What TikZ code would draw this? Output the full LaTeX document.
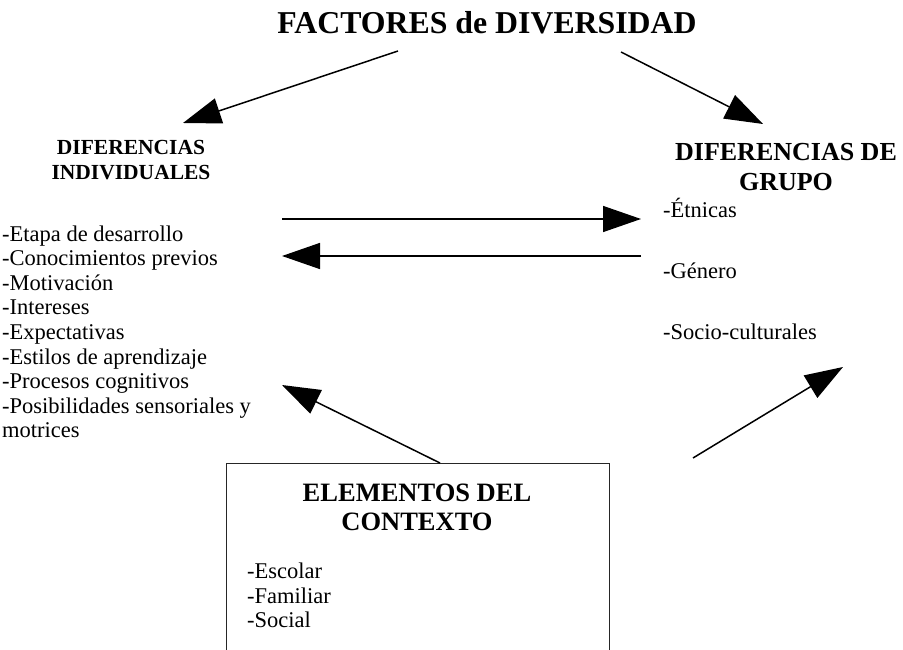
\documentclass[tikz,border=0pt]{standalone}
\usepackage{fontspec}
\setmainfont{Liberation Serif}
\usetikzlibrary{arrows.meta}
\tikzset{
  conn/.style={line width=1.5pt, -{Triangle[length=38pt,width=26pt]}},
  boxline/.style={line width=1pt, draw=black!85},
  item/.style={anchor=base west, inner sep=0pt, font=\fontsize{22.5}{25}\selectfont},
  headS/.style={anchor=base, inner sep=0pt, font=\fontsize{21.5}{24}\selectfont\bfseries},
  headM/.style={anchor=base, inner sep=0pt, font=\fontsize{26}{30}\selectfont\bfseries},
  headN/.style={anchor=base, inner sep=0pt, font=\fontsize{26.5}{30}\selectfont\bfseries},
  headL/.style={anchor=base, inner sep=0pt, font=\fontsize{31.8}{36}\selectfont\bfseries},
}
\begin{document}
\begin{tikzpicture}[x=1pt,y=-1pt]
\useasboundingbox[fill=white] (0,0) rectangle (903,650);

% Title
\node[headL] (title) at (487,34) {FACTORES de DIVERSIDAD};

% Left heading
\node[headS] (indA) at (131,155) {DIFERENCIAS};
\node[headS] (indB) at (131,180) {INDIVIDUALES};

% Left list
\node[item] (i1) at (2,241) {-Etapa de desarrollo};
\node[item] (i2) at (2,265.6) {-Conocimientos previos};
\node[item] (i3) at (2,290.2) {-Motivación};
\node[item] (i4) at (2,314.8) {-Intereses};
\node[item] (i5) at (2,339.4) {-Expectativas};
\node[item] (i6) at (2,364) {-Estilos de aprendizaje};
\node[item] (i7) at (2,388.6) {-Procesos cognitivos};
\node[item] (i8) at (2,413.2) {-Posibilidades sensoriales y};
\node[item] (i9) at (2,437.8) {motrices};

% Right heading
\node[headM] (grpA) at (786,160.5) {DIFERENCIAS DE};
\node[headM] (grpB) at (786,190) {GRUPO};

% Right list
\node[item] (g1) at (663,218) {-Étnicas};
\node[item] (g2) at (663,278.5) {-Género};
\node[item] (g3) at (663,339) {-Socio-culturales};

% Context box
\draw[boxline] (226,651) -- (226,463) coordinate (ctxTL) -- (609,463) coordinate (ctxTR) -- (609,651);
\node[headN] (ctxA) at (417,501) {ELEMENTOS DEL};
\node[headN] (ctxB) at (417,530) {CONTEXTO};
\node[item] (c1) at (247,578.5) {-Escolar};
\node[item] (c2) at (247,603) {-Familiar};
\node[item] (c3) at (247,627.5) {-Social};

% Connector end points
\coordinate (tL) at (398,51);
\coordinate (hL) at (183,123);
\coordinate (tR) at (621,52);
\coordinate (hR) at (763,124);
\coordinate (mA) at (282,219);
\coordinate (mB) at (641,219);
\coordinate (nA) at (641,256);
\coordinate (nB) at (282,256);
\coordinate (bA) at (440,463);
\coordinate (bB) at (282,385);
\coordinate (rA) at (693,458);
\coordinate (rB) at (843,367);

\draw[conn] (tL) -- (hL);
\draw[conn] (tR) -- (hR);
\draw[conn] (mA) -- (mB);
\draw[conn] (nA) -- (nB);
\draw[conn] (bA) -- (bB);
\draw[conn] (rA) -- (rB);
\end{tikzpicture}
\end{document}
